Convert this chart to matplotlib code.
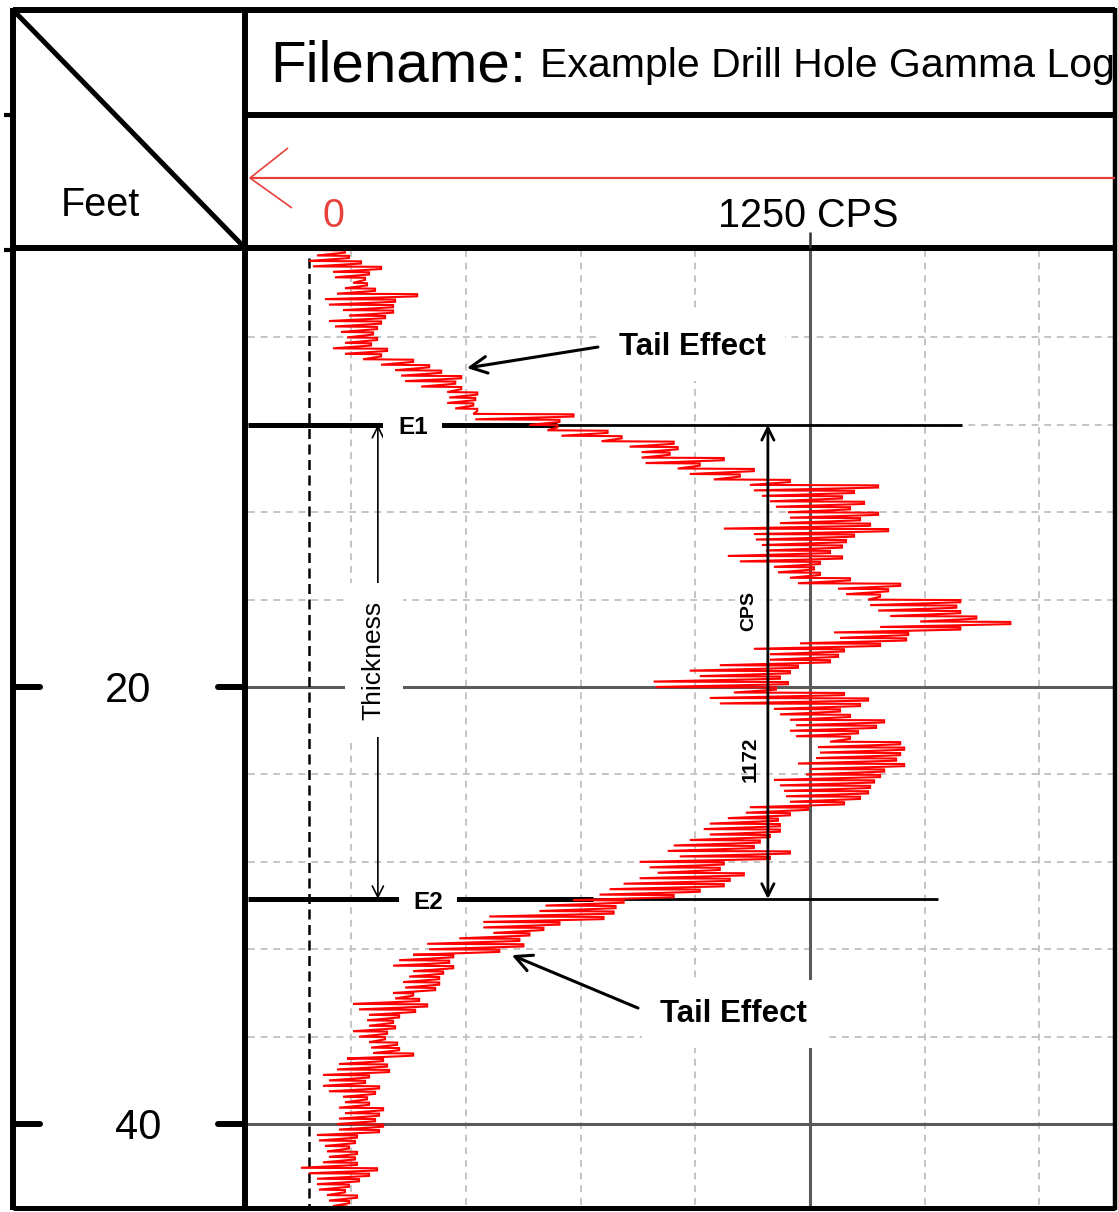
import numpy as np
import matplotlib
matplotlib.use('Agg')
import matplotlib.pyplot as plt
from matplotlib.lines import Line2D

# gamma log: left / right swing of the trace (CPS)
# one pair every quarter foot, from 0 ft down to 43.75 ft
depth_ft = np.arange(0, 44, 0.25)
cps_lo = [20, 20, 0, 10, 60, 65, 110, 90, 70, 40,
          50, 85, 100, 50, 65, 80, 95, 90, 60, 90,
          135, 180, 215, 230, 240, 280, 345, 350, 345, 365,
          410, 415, 550, 595, 630, 730, 800, 830, 830, 840,
          920, 950, 1010, 1100, 1110, 1130, 1150, 1165, 1195, 1200,
          1175, 1035, 1110, 1115, 1130, 1140, 1045, 1075, 1160, 1170,
          1200, 1220, 1320, 1340, 1395, 1400, 1420, 1450, 1525, 1425,
          1310, 1325, 1225, 1110, 1150, 1150, 1025, 950, 975, 860,
          865, 1060, 1000, 1025, 1160, 1175, 1200, 1215, 1200, 1215,
          1300, 1270, 1275, 1265, 1220, 1250, 1240, 1160, 1175, 1185,
          1190, 1200, 1100, 1090, 1045, 1000, 985, 1000, 950, 910,
          895, 925, 825, 850, 870, 825, 785, 750, 725, 660,
          590, 575, 450, 435, 435, 460, 375, 295, 300, 260,
          225, 210, 260, 250, 235, 240, 210, 215, 110, 125,
          150, 145, 150, 110, 125, 150, 155, 160, 95, 75,
          70, 35, 50, 35, 50, 85, 90, 75, 90, 75,
          70, 75, 20, 25, 40, 45, 50, 35, -20, 0,
          20, 20, 25, 45, 50, 60]
cps_hi = [90, 100, 130, 180, 150, 140, 145, 165, 270, 215,
          210, 210, 190, 180, 170, 160, 170, 155, 195, 180,
          260, 300, 330, 380, 365, 380, 420, 415, 410, 420,
          660, 625, 620, 745, 780, 910, 920, 900, 1035, 975,
          1110, 1075, 1200, 1420, 1360, 1330, 1385, 1350, 1420, 1375,
          1400, 1445, 1360, 1340, 1330, 1300, 1330, 1275, 1260, 1275,
          1350, 1475, 1445, 1425, 1625, 1615, 1625, 1665, 1750, 1625,
          1495, 1490, 1425, 1335, 1320, 1300, 1220, 1200, 1175, 1195,
          1165, 1335, 1395, 1375, 1325, 1350, 1435, 1415, 1370, 1350,
          1475, 1485, 1475, 1465, 1485, 1435, 1425, 1410, 1400, 1395,
          1375, 1335, 1245, 1200, 1170, 1175, 1175, 1150, 1125, 1110,
          1200, 1150, 1035, 1025, 1085, 1050, 1035, 975, 910, 785,
          765, 760, 735, 625, 585, 550, 525, 535, 475, 360,
          350, 360, 335, 325, 325, 315, 260, 275, 295, 265,
          225, 210, 215, 195, 190, 220, 225, 260, 185, 195,
          200, 150, 140, 175, 165, 145, 150, 185, 175, 165,
          185, 175, 120, 115, 100, 120, 115, 120, 170, 150,
          125, 100, 90, 120, 100, 95]

# grid and markers
grid_cps = [106, 392, 678, 964, 1536, 1822]
grid_ft = [4, 8, 12, 16, 24, 28, 32, 36]
major_ft = [20, 40]
scale_cps = 1250
e1_ft, e2_ft = 8.0, 29.7
peak_label = '1172'

W, H = 1118, 1212
plt.rcParams['font.family'] = ['Liberation Sans', 'DejaVu Sans']

fig = plt.figure(figsize=(W / 100, H / 100), dpi=100)


def fx(px):
    return px / W


def fy(py):
    return 1 - py / H


def fig_line(xs, ys, lw=4.3, color='black', cap='butt'):
    fig.add_artist(Line2D([fx(x) for x in xs], [fy(y) for y in ys],
                          lw=lw, color=color, solid_capstyle=cap))


# main log panel
ax = fig.add_axes([fx(248), fy(1208), fx(1115) - fx(248), fy(250) - fy(1208)])
ax.set_xlim(-152, 2011)
ax.set_ylim(43.84, 0)
ax.axis('off')

grid_style = dict(colors='#c4c4c4', linestyles=(0, (3.5, 3)), lw=1.4, zorder=1)
ax.vlines(grid_cps, 0, 43.84, **grid_style)
ax.hlines(grid_ft, -152, 2011, **grid_style)
ax.axvline(scale_cps, color='#5a5a5a', lw=2.2, zorder=1.5)
for d in major_ft:
    ax.axhline(d, color='#5a5a5a', lw=2.2, zorder=1.5)
# zero baseline
ax.vlines(0, 0.35, 43.84, colors='black', linestyles=(0, (4, 2.2)), lw=1.8, zorder=1.6)

# trace: near-flat strokes out to the right swing and back to the left swing
xs, ys = [], []
for d, a, b in zip(depth_ft, cps_lo, cps_hi):
    xs += [a, b, b]
    ys += [d, d + 0.02, d + 0.12]
ax.plot(xs, ys, color='red', lw=1.5, zorder=3, solid_joinstyle='miter')

# E1 / E2 picks
ax.plot([-152, 619], [e1_ft, e1_ft], color='black', lw=3.6, zorder=2.5, solid_capstyle='butt')
ax.plot([619, 1629], [e1_ft, e1_ft], color='black', lw=2.0, zorder=2.5, solid_capstyle='butt')
ax.plot([-152, 709], [e2_ft, e2_ft], color='black', lw=3.6, zorder=2.5, solid_capstyle='butt')
ax.plot([709, 1569], [e2_ft, e2_ft], color='black', lw=2.0, zorder=2.5, solid_capstyle='butt')
box = dict(boxstyle='square,pad=0.6', fc='white', ec='none')
ax.text(259, e1_ft + 0.41, 'E1', fontsize=17.5, fontweight='bold', ha='center',
        va='baseline', bbox=box, zorder=5)
ax.text(297, e2_ft + 0.46, 'E2', fontsize=17.5, fontweight='bold', ha='center',
        va='baseline', bbox=box, zorder=5)

# thickness arrow
ax.annotate('', xy=(172, e1_ft), xytext=(172, e2_ft),
            arrowprops=dict(arrowstyle='<->', lw=1.2, color='black',
                            mutation_scale=20, shrinkA=0, shrinkB=0), zorder=4)
ax.text(162, 18.76, 'Thickness', rotation=90, fontsize=19, ha='center', va='center',
        bbox=dict(boxstyle='square,pad=0.65', fc='white', ec='none'), zorder=5)

# CPS arrow
ax.annotate('', xy=(1145, e1_ft), xytext=(1145, e2_ft),
            arrowprops=dict(arrowstyle='<->', lw=2.0, color='black',
                            mutation_scale=22, shrinkA=0, shrinkB=0), zorder=4)
ax.text(1097, 16.5, 'CPS', rotation=90, fontsize=14, fontweight='bold', ha='center',
        va='center', bbox=dict(boxstyle='square,pad=0.15', fc='white', ec='none'), zorder=5)
ax.text(1100, 23.3, peak_label, rotation=90, fontsize=15, fontweight='bold',
        ha='center', va='center', zorder=5)

# tail effect notes
tail_box = dict(boxstyle='square,pad=0.6', fc='white', ec='none')
ax.text(958, 4.81, 'Tail Effect', fontsize=22.5, fontweight='bold', ha='center',
        va='baseline', bbox=tail_box, zorder=5)
ax.annotate('', xy=(394, 5.40), xytext=(721, 4.44),
            arrowprops=dict(arrowstyle='->', lw=2.2, color='black',
                            mutation_scale=30, shrinkA=0, shrinkB=0), zorder=6)
ax.text(1060, 35.33, 'Tail Effect', fontsize=22.5, fontweight='bold', ha='center',
        va='baseline', bbox=tail_box, zorder=5)
ax.annotate('', xy=(506, 32.27), xytext=(821, 34.69),
            arrowprops=dict(arrowstyle='->', lw=2.2, color='black',
                            mutation_scale=30, shrinkA=0, shrinkB=0), zorder=6)

# header and frame
fig_line([13, 1115], [10, 10])
fig_line([13, 13], [8, 1210])
fig_line([1115, 1115], [8, 1210], lw=3.2)
fig_line([13, 1115], [1208, 1208], lw=3.6)
fig_line([245, 245], [8, 1210])
fig_line([245, 1115], [115, 115])
fig_line([13, 1115], [248, 248])
fig_line([15, 245], [12, 248], lw=3.6)
fig_line([810, 810], [232, 248], lw=1.8, color='#333333')
fig_line([4, 13], [115, 115], lw=3)
fig_line([4, 13], [250, 250], lw=3)

# depth labels
for d, xc in zip(major_ft, [128, 138]):
    ypx = 250 + d * 21.85
    fig_line([13, 40], [ypx, ypx], cap='round')
    fig_line([218, 245], [ypx, ypx], cap='round')
    fig.text(fx(xc), fy(ypx + 15), str(d), fontsize=30, ha='center', va='baseline')

fig.text(fx(100), fy(216), 'Feet', fontsize=28.5, ha='center', va='baseline')
fig.text(fx(270), fy(81), 'Filename:', fontsize=42, ha='left', va='baseline')
fig.text(fx(540), fy(77), 'Example Drill Hole Gamma Log', fontsize=29.5,
         ha='left', va='baseline')

# scale row: red arrow and labels
red = '#e8403a'
fig_line([250, 1115], [178, 178], lw=1.6, color=red)
fig_line([288, 250, 292], [148, 178, 208], lw=1.2, color=red)
fig.text(fx(333), fy(227), '0', fontsize=28.5, color=red, ha='center', va='baseline')
fig.text(fx(808), fy(227), '1250 CPS', fontsize=28.5, ha='center', va='baseline')

fig.savefig('out.png', dpi=100)
